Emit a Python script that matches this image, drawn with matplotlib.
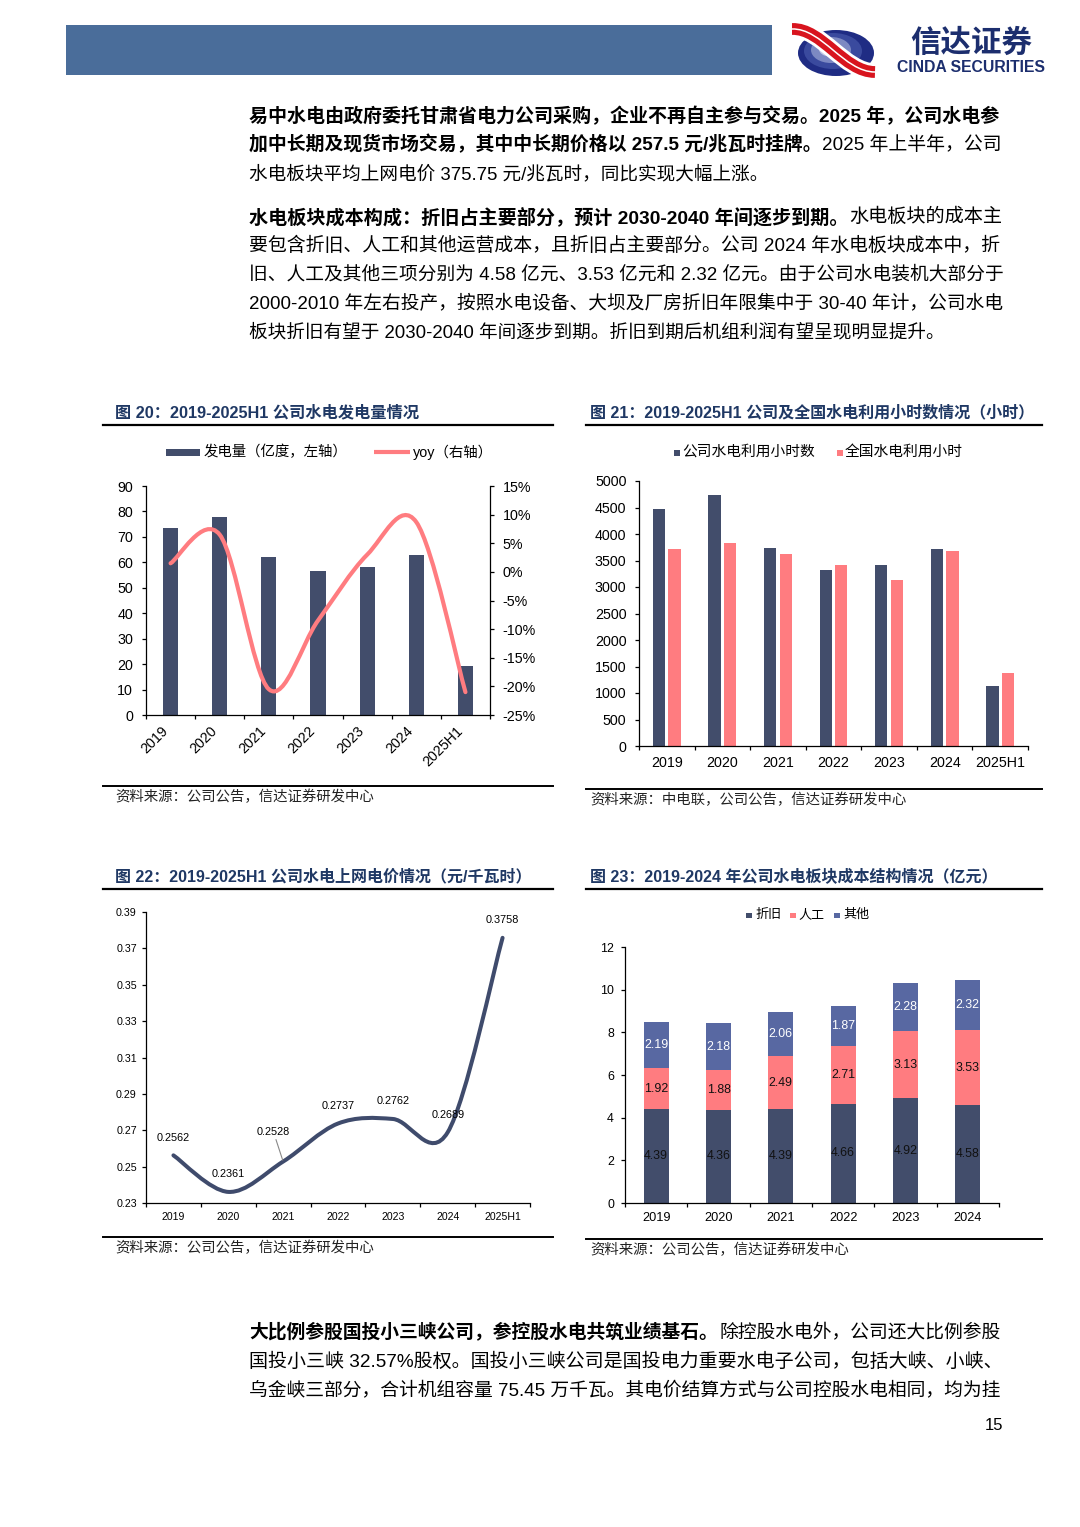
import numpy as np
import matplotlib
matplotlib.use('Agg')
import matplotlib.pyplot as plt
from matplotlib.path import Path
from matplotlib.patches import PathPatch, Rectangle, Ellipse

plt.rcParams['font.family'] = ['Liberation Sans', 'Noto Sans CJK SC', 'DejaVu Sans']
plt.rcParams['axes.unicode_minus'] = False

# ---------------- data ----------------
years = ['2019', '2020', '2021', '2022', '2023', '2024', '2025H1']
gen = [73.4, 77.9, 61.9, 56.6, 58.1, 63.0, 19.4]          # 亿度
gen_yoy = [1.5, 6.5, -20.5, -8.5, 3.0, 8.7, -21.0]        # %

hours_company = [4465, 4729, 3728, 3325, 3413, 3709, 1134]
hours_national = [3722, 3822, 3615, 3407, 3130, 3684, 1379]

price = [0.2562, 0.2361, 0.2528, 0.2737, 0.2762, 0.2689, 0.3758]
price_labels = ['0.2562', '0.2361', '0.2528', '0.2737', '0.2762', '0.2689', '0.3758']

years23 = ['2019', '2020', '2021', '2022', '2023', '2024']
cost_dep = [4.39, 4.36, 4.39, 4.66, 4.92, 4.58]
cost_labor = [1.92, 1.88, 2.49, 2.71, 3.13, 3.53]
cost_other = [2.19, 2.18, 2.06, 1.87, 2.28, 2.32]

# ---------------- style ----------------
DARK = '#424D6B'
PINK = '#FF7C80'
BLUE3 = '#5868A2'
TITLE_C = '#1F3864'
W, H = 1080, 1527

fig = plt.figure(figsize=(W / 100, H / 100), dpi=100, facecolor='white')
page = fig.add_axes([0, 0, 1, 1])
page.set_xlim(0, W)
page.set_ylim(H, 0)
page.axis('off')
renderer = fig.canvas.get_renderer()


def add_ax(l, t, r, b):
    return fig.add_axes([l / W, 1 - b / H, (r - l) / W, (b - t) / H])


def smooth_path(xs, ys):
    pts = np.column_stack([xs, ys]).astype(float)
    n = len(pts)
    verts = [pts[0]]
    codes = [Path.MOVETO]
    for i in range(n - 1):
        p0 = pts[i - 1] if i > 0 else pts[i]
        p1 = pts[i]
        p2 = pts[i + 1]
        p3 = pts[i + 2] if i + 2 < n else pts[i + 1]
        verts += [p1 + (p2 - p0) / 6, p2 - (p3 - p1) / 6, p2]
        codes += [Path.CURVE4] * 3
    return Path(verts, codes)


def style_axis(ax, ylabsize, ypad, xlabsize, xpad):
    for s in ['top', 'right']:
        ax.spines[s].set_visible(False)
    for s in ['left', 'bottom']:
        ax.spines[s].set_linewidth(0.9)
        ax.spines[s].set_color('black')
    ax.tick_params(axis='y', direction='out', length=3, width=0.9, labelsize=ylabsize, pad=ypad)
    ax.tick_params(axis='x', which='major', length=0, labelsize=xlabsize, pad=xpad)
    ax.tick_params(axis='x', which='minor', direction='out', length=3, width=0.9)


def fit_text(x0, y, s, x1, base, **kw):
    t = page.text(x0, y, s, fontsize=base, ha='left', va='center', **kw)
    w = t.get_window_extent(renderer).width
    t.set_fontsize(base * (x1 - x0) / w)
    return t


# ---------------- header ----------------
page.add_patch(Rectangle((66, 25), 706, 50, color='#4A6D9A', lw=0))
page.add_patch(Ellipse((836, 53), 76, 46, color='#1F2C84', lw=0))
page.add_patch(Ellipse((833, 51), 58, 36, color='#3A4A9E', lw=0))
page.add_patch(Ellipse((831, 50), 40, 26, color='#7D89C2', lw=0))
page.add_patch(Ellipse((830, 49), 22, 15, color='#C6CCE6', lw=0))
rib = Path([(792, 29), (822, 28), (844, 72), (875, 72)],
           [Path.MOVETO, Path.CURVE4, Path.CURVE4, Path.CURVE4])
for c, lw in [('white', 12.5), ('#D8141E', 8.5), ('white', 1.1)]:
    page.add_patch(PathPatch(rib, fc='none', ec=c, lw=lw, capstyle='butt'))
page.text(971, 44, '信达证券', fontsize=22, fontweight='bold', color='#1C2E6E', ha='center', va='center')
fit_text(897, 67, 'CINDA SECURITIES', 1046, 9.6, fontweight='bold', color='#1C2E6E')


# ---------------- body text ----------------
def draw_line(segments, y, justify=True, x0=249, x1=1002, base=13.4):
    texts = []
    for s, b in segments:
        t = page.text(x0, y, s, fontsize=base, fontweight='bold' if b else 'normal',
                      va='center', ha='left', color='black')
        texts.append(t)
    widths = [t.get_window_extent(renderer).width for t in texts]
    f = (x1 - x0) / sum(widths) if justify else 1.0
    x = x0
    for t, w in zip(texts, widths):
        t.set_fontsize(base * f)
        t.set_x(x)
        x += w * f


draw_line([('易中水电由政府委托甘肃省电力公司采购，企业不再自主参与交易。2025 年，公司水电参', True)], 116)
draw_line([('加中长期及现货市场交易，其中中长期价格以 257.5 元/兆瓦时挂牌。', True), ('2025 年上半年，公司', False)], 145)
draw_line([('水电板块平均上网电价 375.75 元/兆瓦时，同比实现大幅上涨。', False)], 174, justify=False)

draw_line([('水电板块成本构成：折旧占主要部分，预计 2030-2040 年间逐步到期。', True), ('水电板块的成本主', False)], 217)
draw_line([('要包含折旧、人工和其他运营成本，且折旧占主要部分。公司 2024 年水电板块成本中，折', False)], 246)
draw_line([('旧、人工及其他三项分别为 4.58 亿元、3.53 亿元和 2.32 亿元。由于公司水电装机大部分于', False)], 275)
draw_line([('2000-2010 年左右投产，按照水电设备、大坝及厂房折旧年限集中于 30-40 年计，公司水电', False)], 304)
draw_line([('板块折旧有望于 2030-2040 年间逐步到期。折旧到期后机组利润有望呈现明显提升。', False)], 333, justify=False)

draw_line([('大比例参股国投小三峡公司，参控股水电共筑业绩基石。', True), ('除控股水电外，公司还大比例参股', False)], 1333)
draw_line([('国投小三峡 32.57%股权。国投小三峡公司是国投电力重要水电子公司，包括大峡、小峡、', False)], 1362)
draw_line([('乌金峡三部分，合计机组容量 75.45 万千瓦。其电价结算方式与公司控股水电相同，均为挂', False)], 1391)

page.text(1003, 1425, '15', fontsize=12, ha='right', va='center', color='black')

# ---------------- chart frames (titles / source) ----------------
frames = [
    (115, 413, '图 20：2019-2025H1 公司水电发电量情况', 418, 103, 553, 425, 786, 797,
     '资料来源：公司公告，信达证券研发中心', 375),
    (590, 413, '图 21：2019-2025H1 公司及全国水电利用小时数情况（小时）', 1035, 586, 1042, 425, 789, 800,
     '资料来源：中电联，公司公告，信达证券研发中心', 908),
    (115, 877, '图 22：2019-2025H1 公司水电上网电价情况（元/千瓦时）', 530, 103, 553, 889, 1237, 1248,
     '资料来源：公司公告，信达证券研发中心', 375),
    (590, 877, '图 23：2019-2024 年公司水电板块成本结构情况（亿元）', 997, 586, 1042, 889, 1239, 1250,
     '资料来源：公司公告，信达证券研发中心', 850),
]
for tx, ty, title, tend, lx0, lx1, ly, sy, sty, src, send in frames:
    fit_text(tx, ty, title, tend, 11, fontweight='bold', color=TITLE_C)
    page.plot([lx0, lx1], [ly, ly], color='black', lw=1.6)
    page.plot([lx0, lx1], [sy, sy], color='black', lw=1.4)
    fit_text(tx, sty, src, send, 9.6, color='#222222', style='italic')

# ---------------- chart 20 ----------------
ax = add_ax(146, 486, 490, 715)
x = np.arange(len(years))
ax.bar(x, gen, width=0.31, color=DARK, zorder=2)
ax.set_xlim(-0.5, len(years) - 0.5)
ax.set_ylim(0, 90)
ax.set_yticks(np.arange(0, 91, 10))
ax.set_xticks(x)
ax.set_xticklabels(years, rotation=45, ha='right')
ax.set_xticks(np.arange(-0.5, len(years), 1), minor=True)
style_axis(ax, 10.3, 6.2, 10.3, 6.5)
ax.patch.set_alpha(0)
ax2 = ax.twinx()
ax2.set_ylim(-25, 15)
ax2.set_yticks(np.arange(-25, 16, 5))
ax2.set_yticklabels([f'{v}%' for v in range(-25, 16, 5)])
for s in ['top', 'left', 'bottom']:
    ax2.spines[s].set_visible(False)
ax2.spines['right'].set_linewidth(0.9)
ax2.tick_params(axis='y', direction='out', length=3, width=0.9, labelsize=10.3, pad=6)
ax2.add_patch(PathPatch(smooth_path(x, gen_yoy), fc='none', ec=PINK, lw=3, capstyle='round', zorder=3))

page.add_patch(Rectangle((166, 449), 34, 7, color=DARK, lw=0))
page.text(204, 452, '发电量（亿度，左轴）', fontsize=10.4, ha='left', va='center')
page.plot([374, 410], [452, 452], color=PINK, lw=3, solid_capstyle='butt')
page.text(413, 452, 'yoy（右轴）', fontsize=10.4, ha='left', va='center')

# ---------------- chart 21 ----------------
ax = add_ax(639, 481, 1028, 746)
x = np.arange(len(years))
ax.bar(x - 0.14, hours_company, width=0.22, color=DARK, zorder=2)
ax.bar(x + 0.14, hours_national, width=0.22, color=PINK, zorder=2)
ax.set_xlim(-0.5, len(years) - 0.5)
ax.set_ylim(0, 5000)
ax.set_yticks(np.arange(0, 5001, 500))
ax.set_xticks(x)
ax.set_xticklabels(years)
ax.set_xticks(np.arange(-0.5, len(years), 1), minor=True)
style_axis(ax, 10.3, 6, 10.3, 7)

page.add_patch(Rectangle((673.5, 449.5), 6, 6, color=DARK, lw=0))
page.text(682, 452, '公司水电利用小时数', fontsize=10.6, ha='left', va='center')
page.add_patch(Rectangle((836.5, 449.5), 6, 6, color=PINK, lw=0))
page.text(845, 452, '全国水电利用小时', fontsize=10.6, ha='left', va='center')

# ---------------- chart 22 ----------------
ax = add_ax(146, 912, 530, 1203)
x = np.arange(len(years))
ax.add_patch(PathPatch(smooth_path(x, price), fc='none', ec='#3F4B6C', lw=2.9, capstyle='round', zorder=3))
ax.set_xlim(-0.5, len(years) - 0.5)
ax.set_ylim(0.23, 0.39)
ax.set_yticks(np.arange(0.23, 0.3901, 0.02))
ax.set_yticklabels([f'{v:.2f}' for v in np.arange(0.23, 0.3901, 0.02)])
ax.set_xticks(x)
ax.set_xticklabels(years)
ax.set_xticks(np.arange(-0.5, len(years), 1), minor=True)
style_axis(ax, 7.7, 3.6, 7.6, 6.5)
for i, (v, lab) in enumerate(zip(price, price_labels)):
    if i == 2:
        ax.annotate(lab, (i, v), xytext=(-7, 17.8), textcoords='offset points', ha='center', va='bottom',
                    fontsize=7.8, arrowprops=dict(arrowstyle='-', color='#888888', lw=0.8, shrinkA=0, shrinkB=1))
    else:
        ax.annotate(lab, (i, v), xytext=(0, 9), textcoords='offset points', ha='center', va='bottom',
                    fontsize=7.8)

# ---------------- chart 23 ----------------
ax = add_ax(625, 947, 999, 1203)
x = np.arange(len(years23))
b1 = np.array(cost_dep)
b2 = b1 + np.array(cost_labor)
ax.bar(x, cost_dep, width=0.4, color=DARK, zorder=2)
ax.bar(x, cost_labor, width=0.4, bottom=b1, color=PINK, zorder=2)
ax.bar(x, cost_other, width=0.4, bottom=b2, color=BLUE3, zorder=2)
for i in range(len(x)):
    ax.text(i, cost_dep[i] / 2, f'{cost_dep[i]:.2f}', ha='center', va='center', fontsize=8.9, color='#111111', zorder=4)
    ax.text(i, b1[i] + cost_labor[i] / 2, f'{cost_labor[i]:.2f}', ha='center', va='center', fontsize=8.9, color='#111111', zorder=4)
    ax.text(i, b2[i] + cost_other[i] / 2, f'{cost_other[i]:.2f}', ha='center', va='center', fontsize=8.9, color='white', zorder=4)
ax.set_xlim(-0.5, len(years23) - 0.5)
ax.set_ylim(0, 12)
ax.set_yticks(np.arange(0, 13, 2))
ax.set_xticks(x)
ax.set_xticklabels(years23)
ax.set_xticks(np.arange(-0.5, len(years23), 1), minor=True)
style_axis(ax, 8.9, 5, 9.2, 6.5)

for sx, tx, lab, c in [(746, 755, '折旧', DARK), (790, 798, '人工', PINK), (834, 843, '其他', BLUE3)]:
    page.add_patch(Rectangle((sx, 912.5), 5.5, 5.5, color=c, lw=0))
    page.text(tx, 915, lab, fontsize=9.4, ha='left', va='center')

fig.savefig('out.png', dpi=100, facecolor='white')
